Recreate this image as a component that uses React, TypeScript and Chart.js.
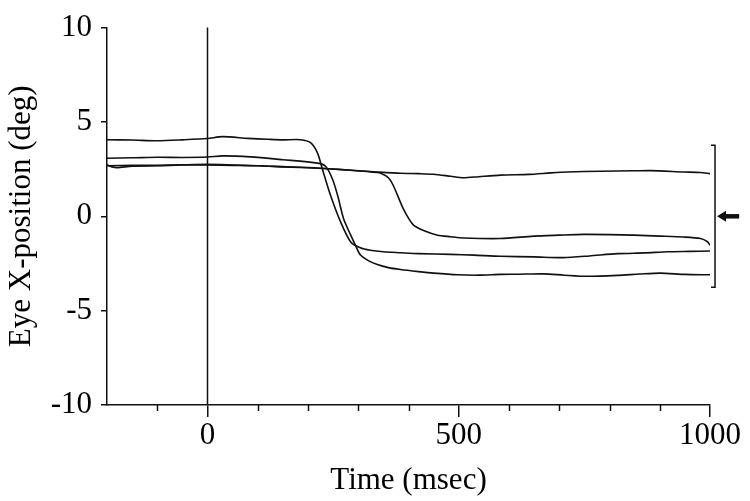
import React, { useEffect, useRef } from 'react';
import { Chart, registerables } from 'chart.js';

Chart.register(...registerables);

// Axis ranges and ticks
const X_MIN = -200;
const X_MAX = 1000;
const Y_MIN = -10;
const Y_MAX = 10;
const X_LABELED_TICKS = [0, 500, 1000];
const X_MINOR_TICKS = [-100, 100, 200, 300, 400, 600, 700, 800, 900];
const Y_TICKS = [-10, -5, 0, 5, 10];

// Annotations (data units)
const STIMULUS_TIME = 0;
const BRACKET_X = 1010;
const BRACKET_SERIF_X = 1002;
const BRACKET_TOP = 3.76;
const BRACKET_BOTTOM = -3.76;
const ARROW_Y = 0;
const ARROW_TIP_X = 1014;
const ARROW_TAIL_X = 1058;

// Trace A: starts ~4 deg, fast saccade, settles ~-2 deg
const traceATime = [-200, -150, -100, -50, 0, 30, 80, 120, 150, 185, 205, 219, 229, 245, 265, 285, 304, 324, 350, 384, 420, 484, 530, 583, 650, 708, 760, 816, 870, 915, 960, 1000];
const traceAValue = [4.06, 4.04, 4.0, 4.05, 4.12, 4.22, 4.13, 4.08, 4.05, 4.06, 3.9, 3.35, 2.47, 1.1, -0.31, -1.36, -1.67, -1.8, -1.88, -1.93, -1.98, -2.02, -2.06, -2.12, -2.15, -2.19, -2.1, -1.98, -1.94, -1.88, -1.86, -1.84];

// Trace B: starts ~3.1 deg, saccade, settles ~-3.1 deg
const traceBTime = [-200, -150, -100, -50, 0, 30, 85, 150, 219, 235, 249, 259, 271, 285, 295, 304, 320, 338, 360, 384, 420, 450, 498, 540, 583, 620, 669, 710, 756, 816, 860, 901, 950, 1000];
const traceBValue = [3.08, 3.1, 3.13, 3.12, 3.14, 3.2, 3.15, 3.0, 2.82, 2.65, 1.95, 1.1, -0.14, -1.0, -1.57, -2.04, -2.35, -2.56, -2.72, -2.82, -2.93, -3.01, -3.1, -3.12, -3.08, -3.07, -3.05, -3.12, -3.18, -3.13, -3.06, -3.01, -3.08, -3.1];

// Trace C: starts ~2.7 deg, no saccade, drifts to ~2.3 deg
const traceCTime = [-200, -190, -180, -150, -100, -50, 0, 50, 100, 150, 219, 280, 338, 384, 420, 450, 484, 509, 540, 583, 640, 683, 716, 782, 848, 882, 947, 981, 1000];
const traceCValue = [2.73, 2.62, 2.58, 2.66, 2.68, 2.72, 2.75, 2.72, 2.68, 2.63, 2.56, 2.45, 2.35, 2.28, 2.26, 2.23, 2.12, 2.04, 2.1, 2.18, 2.22, 2.3, 2.35, 2.39, 2.41, 2.42, 2.35, 2.32, 2.26];

// Trace D: starts ~2.7 deg, late saccade, settles ~-1.1 deg
const traceDTime = [-200, -150, -100, -50, 0, 50, 100, 150, 219, 280, 338, 350, 360, 370, 390, 410, 430, 458, 484, 509, 583, 649, 700, 748, 800, 848, 900, 947, 981, 995, 1000];
const traceDValue = [2.68, 2.7, 2.7, 2.73, 2.72, 2.7, 2.68, 2.62, 2.55, 2.45, 2.32, 2.22, 2.04, 1.62, 0.38, -0.47, -0.75, -1.0, -1.08, -1.15, -1.18, -1.05, -1.0, -0.96, -0.97, -1.0, -1.05, -1.1, -1.18, -1.35, -1.53];

const TRACES = [
  { time: traceATime, value: traceAValue },
  { time: traceBTime, value: traceBValue },
  { time: traceCTime, value: traceCValue },
  { time: traceDTime, value: traceDValue },
];

const FONT = 'Liberation Serif, Times New Roman, serif';
const INK = '#111';

const annotationPlugin = {
  id: 'eyeAnnotations',
  afterDraw(chart: any) {
    const { ctx, chartArea, scales } = chart;
    const xs = scales.x;
    const ys = scales.y;
    ctx.save();
    ctx.strokeStyle = INK;
    ctx.lineWidth = 1.5;
    // minor x ticks
    for (const v of X_MINOR_TICKS) {
      const px = Math.round(xs.getPixelForValue(v)) + 0.5;
      ctx.beginPath();
      ctx.moveTo(px, chartArea.bottom);
      ctx.lineTo(px, chartArea.bottom + 6);
      ctx.stroke();
    }
    // stimulus onset line
    const sx = xs.getPixelForValue(STIMULUS_TIME);
    ctx.beginPath();
    ctx.moveTo(sx, chartArea.top);
    ctx.lineTo(sx, chartArea.bottom);
    ctx.stroke();
    // bracket
    const bx = xs.getPixelForValue(BRACKET_X);
    const bsx = xs.getPixelForValue(BRACKET_SERIF_X);
    const bt = ys.getPixelForValue(BRACKET_TOP);
    const bb = ys.getPixelForValue(BRACKET_BOTTOM);
    ctx.beginPath();
    ctx.moveTo(bsx, bt);
    ctx.lineTo(bx, bt);
    ctx.lineTo(bx, bb);
    ctx.lineTo(bsx, bb);
    ctx.stroke();
    // arrow
    const ay = ys.getPixelForValue(ARROW_Y);
    const tip = xs.getPixelForValue(ARROW_TIP_X);
    const tail = xs.getPixelForValue(ARROW_TAIL_X);
    ctx.lineWidth = 4.5;
    ctx.beginPath();
    ctx.moveTo(tail, ay);
    ctx.lineTo(tip + 6, ay);
    ctx.stroke();
    ctx.fillStyle = INK;
    ctx.beginPath();
    ctx.moveTo(tip, ay);
    ctx.lineTo(tip + 9, ay - 5.5);
    ctx.lineTo(tip + 9, ay + 5.5);
    ctx.closePath();
    ctx.fill();
    ctx.restore();
  },
};

export default function App() {
  const canvasRef = useRef<HTMLCanvasElement>(null);

  useEffect(() => {
    if (!canvasRef.current) return;
    const datasets = TRACES.map((t) => ({
      data: t.time.map((x, i) => ({ x, y: t.value[i] })),
      borderColor: INK,
      borderWidth: 1.6,
      pointRadius: 0,
      tension: 0.25,
      fill: false,
    }));
    const chart = new Chart(canvasRef.current, {
      type: 'line',
      data: { datasets },
      plugins: [annotationPlugin],
      options: {
        animation: false,
        responsive: false,
        maintainAspectRatio: false,
        layout: { padding: { left: 0, top: 22, right: 40, bottom: 0 } },
        plugins: { legend: { display: false }, tooltip: { enabled: false } },
        scales: {
          x: {
            type: 'linear',
            min: X_MIN,
            max: X_MAX,
            afterBuildTicks: (s: any) => {
              s.ticks = X_LABELED_TICKS.map((v) => ({ value: v }));
            },
            afterFit: (s: any) => {
              s.height = 96;
            },
            border: { display: true, color: INK, width: 1.5 },
            grid: { drawOnChartArea: false, drawTicks: true, tickLength: 12, color: INK, lineWidth: 1.5 },
            ticks: {
              color: '#000',
              font: { family: FONT, size: 31 },
              padding: 0,
              maxRotation: 0,
              autoSkip: false,
              callback: (v: any) => String(v),
            },
            title: { display: true, text: 'Time (msec)', color: '#000', font: { family: FONT, size: 31 }, padding: { top: 0, bottom: 2 } },
          },
          y: {
            type: 'linear',
            min: Y_MIN,
            max: Y_MAX,
            afterBuildTicks: (s: any) => {
              s.ticks = Y_TICKS.map((v) => ({ value: v }));
            },
            afterFit: (s: any) => {
              s.width = 107;
            },
            border: { display: true, color: INK, width: 1.5 },
            grid: { drawOnChartArea: false, drawTicks: true, tickLength: 6, color: INK, lineWidth: 1.5 },
            ticks: { color: '#000', font: { family: FONT, size: 31 }, padding: 9, callback: (v: any) => String(v) },
            title: { display: true, text: 'Eye X-position (deg)', color: '#000', font: { family: FONT, size: 31 }, padding: { top: 3, bottom: 0 } },
          },
        },
      },
    });
    return () => chart.destroy();
  }, []);

  return (
    <div style={{ position: 'fixed', left: 0, top: 0, width: 750, height: 501, background: '#fff' }}>
      <canvas ref={canvasRef} width={750} height={501} />
    </div>
  );
}
